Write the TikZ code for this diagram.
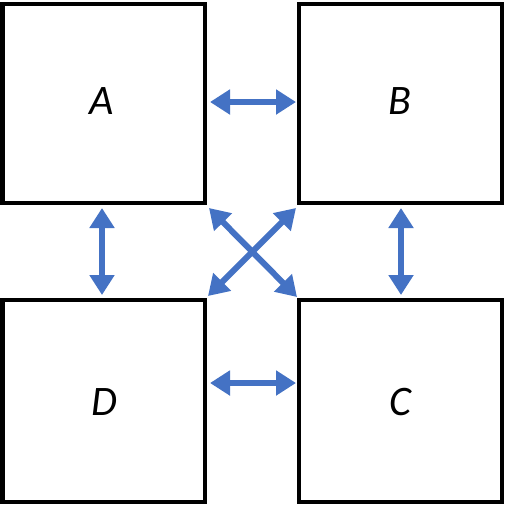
\documentclass[tikz,border=0pt]{standalone}
\usepackage{fontspec}
\setmainfont{Carlito}
\usetikzlibrary{arrows.meta}
\definecolor{arrblue}{HTML}{4472C4}
\tikzset{
  boxsq/.style={draw=black, line width=4.5pt, fill=white},
  lbl/.style={font=\fontsize{42}{48}\selectfont\itshape, inner sep=0pt},
  dbl/.style={draw=arrblue, line width=6pt, {Triangle[width=24pt,length=20pt]}-{Triangle[width=24pt,length=20pt]}}
}
\begin{document}
\begin{tikzpicture}[x=1pt,y=-1pt]
\useasboundingbox (0,0) rectangle (505,504);
\fill[white] (0,0) rectangle (505,504);
\draw[boxsq] (2.5,4) rectangle (205,203);
\draw[boxsq] (299,4) rectangle (502,203);
\draw[boxsq] (2.5,300) rectangle (205,502);
\draw[boxsq] (299,300) rectangle (502,502);
\node[lbl] (A) at (102,101) {A};
\node[lbl] (B) at (400,101) {B};
\node[lbl] (D) at (104,402) {D};
\node[lbl] (C) at (400,402) {C};
\coordinate (ab1) at (210,102);
\coordinate (ab2) at (296,102);
\coordinate (dc1) at (210,383);
\coordinate (dc2) at (296,383);
\coordinate (ad1) at (102,208);
\coordinate (ad2) at (102,295);
\coordinate (bc1) at (401,208);
\coordinate (bc2) at (401,295);
\coordinate (x1) at (209,208);
\coordinate (x2) at (297,297);
\coordinate (x3) at (296,208);
\coordinate (x4) at (208,296);
\draw[dbl] (ab1) -- (ab2);
\draw[dbl] (dc1) -- (dc2);
\draw[dbl] (ad1) -- (ad2);
\draw[dbl] (bc1) -- (bc2);
\draw[dbl] (x1) -- (x2);
\draw[dbl] (x3) -- (x4);
\end{tikzpicture}
\end{document}
